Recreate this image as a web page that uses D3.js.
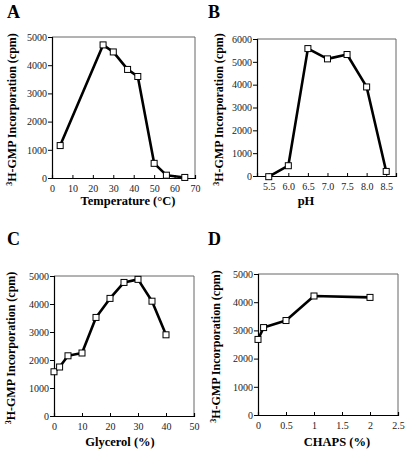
<!DOCTYPE html>
<html><head><meta charset="utf-8">
<script src="https://cdn.jsdelivr.net/npm/d3@7/dist/d3.min.js"></script>
<style>body{margin:0;background:#fff}svg{display:block}</style>
</head><body><svg id="c" width="410" height="452"></svg>
<script>
// Panel A: Temperature
const tempX = [4, 25, 30, 37, 42, 50, 56, 65];
const tempY = [1150, 4720, 4470, 3850, 3600, 520, 100, 20];
const tempXTicks = [0,10,20,30,40,50,60,70];
const tempYTicks = [0,1000,2000,3000,4000,5000];
// Panel B: pH
const phX = [5.5, 6.0, 6.5, 7.0, 7.5, 8.0, 8.5];
const phY = [-30, 450, 5580, 5130, 5320, 3900, 200];
const phXTicks = [5.5,6.0,6.5,7.0,7.5,8.0,8.5];
const phYTicks = [0,1000,2000,3000,4000,5000,6000];
// Panel C: Glycerol
const glyX = [0, 2, 5, 10, 15, 20, 25, 30, 35, 40];
const glyY = [1580, 1750, 2150, 2250, 3520, 4200, 4770, 4880, 4100, 2900];
const glyXTicks = [0,10,20,30,40,50];
const glyYTicks = [0,1000,2000,3000,4000,5000];
// Panel D: CHAPS
const chX = [0, 0.1, 0.5, 1, 2];
const chY = [2680, 3100, 3350, 4220, 4170];
const chXTicks = [0,0.5,1,1.5,2,2.5];
const chYTicks = [0,1000,2000,3000,4000,5000];

const svg = d3.select('#c');
const serif = '"Liberation Serif","DejaVu Serif",serif';

function panel(o){
  const g = svg.append('g');
  const x = d3.scaleLinear().domain(o.xd).range([o.l, o.r]);
  const y = d3.scaleLinear().domain(o.yd).range([o.b, o.t]);
  g.append('path').attr('d', `M${o.l},${o.t}H${o.r}V${o.b}`).attr('fill','none').attr('stroke','#666').attr('stroke-width',1);
  const ya = g.append('g').attr('transform',`translate(${o.l},0)`)
    .call(d3.axisLeft(y).tickValues(o.yt).tickSize(4).tickPadding(1).tickFormat(d3.format('d')));
  const xa = g.append('g').attr('transform',`translate(0,${o.b})`)
    .call(d3.axisBottom(x).tickValues(o.xt).tickSize(-3).tickPadding(7).tickFormat(o.xf));
  [ya, xa].forEach(a=>{
    a.select('.domain').attr('stroke','#000').attr('stroke-width',1.2);
    a.selectAll('line').attr('stroke','#000');
    a.selectAll('text').attr('font-family',serif).attr('font-size',10).attr('fill','#222');
  });
  const data = o.xs.map((v,i)=>[v,o.ys[i]]);
  g.append('path').datum(data).attr('d', d3.line().x(d=>x(d[0])).y(d=>y(d[1])))
    .attr('fill','none').attr('stroke','#000').attr('stroke-width',2.6).attr('stroke-linejoin','round');
  g.selectAll('rect.m').data(data).enter().append('rect')
    .attr('x',d=>x(d[0])-3).attr('y',d=>y(d[1])-3).attr('width',6).attr('height',6)
    .attr('fill','#fff').attr('stroke','#000').attr('stroke-width',1);
  g.append('text').attr('x',o.lx).attr('y',o.ly).text(o.letter)
    .attr('font-family',serif).attr('font-weight','bold').attr('font-size',18);
  const yl = g.append('text').attr('transform',`translate(${o.ylx},${(o.t+o.b)/2+2}) rotate(-90)`)
    .attr('text-anchor','middle').attr('font-family',serif).attr('font-weight','bold').attr('font-size',12);
  yl.append('tspan').attr('font-size',8).attr('dy',-4).text('3');
  yl.append('tspan').attr('dy',4).text('H-GMP Incorporation (cpm)');
  g.append('text').attr('x',o.xtx).attr('y',o.xty).attr('text-anchor','middle')
    .attr('font-family',serif).attr('font-weight','bold').attr('font-size',12.5).text(o.xtitle);
}

panel({xs:tempX, ys:tempY, xd:[0,70], yd:[0,5000], xt:tempXTicks, yt:tempYTicks, xf:d3.format('d'),
  l:52, r:195, t:37, b:178, letter:'A', lx:7, ly:18, ylx:16, xtx:128, xty:205, xtitle:'Temperature (°C)'});
panel({xs:phX, ys:phY, xd:[5.2,8.75], yd:[0,6000], xt:phXTicks, yt:phYTicks, xf:d3.format('.1f'),
  l:257, r:396, t:39, b:176, letter:'B', lx:208, ly:18, ylx:223, xtx:306, xty:205, xtitle:'pH'});
panel({xs:glyX, ys:glyY, xd:[0,50], yd:[0,5000], xt:glyXTicks, yt:glyYTicks, xf:d3.format('d'),
  l:54, r:194, t:276, b:416, letter:'C', lx:7, ly:245, ylx:15, xtx:120, xty:446, xtitle:'Glycerol (%)'});
panel({xs:chX, ys:chY, xd:[0,2.5], yd:[0,5000], xt:chXTicks, yt:chYTicks, xf:d=>String(d),
  l:258, r:398, t:274, b:415, letter:'D', lx:208, ly:245, ylx:220, xtx:337, xty:446, xtitle:'CHAPS (%)'});
</script></body></html>
